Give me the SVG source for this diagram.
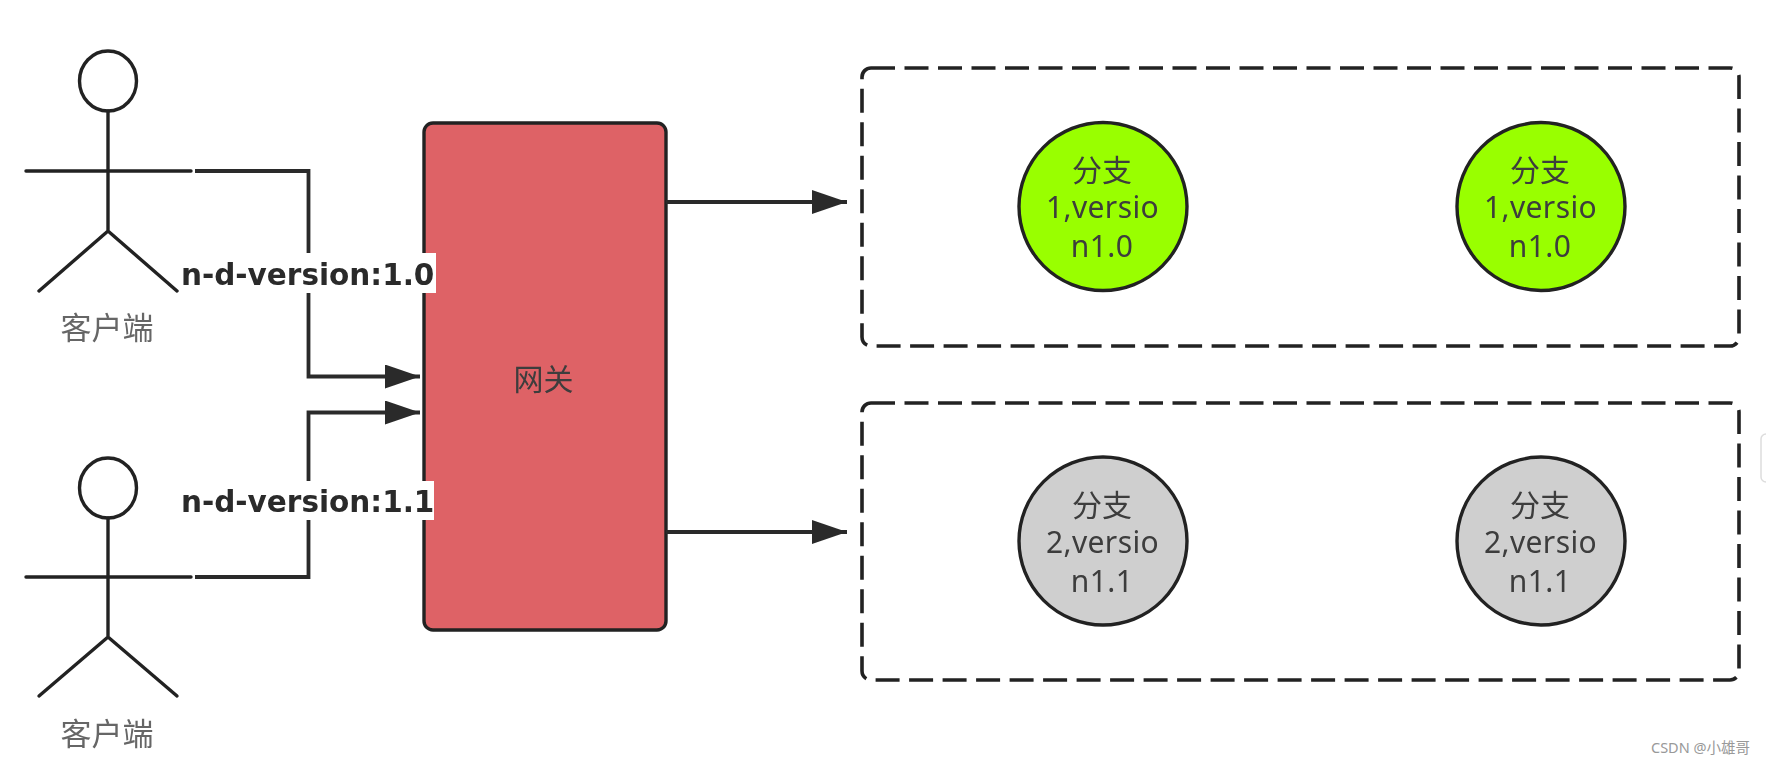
<svg xmlns="http://www.w3.org/2000/svg" width="1766" height="764" viewBox="0 0 1766 764">
<style>
.ln{fill:none;stroke:#222;stroke-width:3.4;stroke-linecap:round;stroke-linejoin:round}
.cn{fill:none;stroke:#2b2b2b;stroke-width:3.8;stroke-linejoin:miter}
.box{fill:#fff;stroke:#222;stroke-width:3.6;stroke-dasharray:24 9.5}
.t{font-family:"Noto Sans","Noto Sans CJK SC",sans-serif;font-size:30px;fill:#3c3c3c;text-anchor:middle}
.l{letter-spacing:.4px}
.a{font-family:"Noto Sans CJK SC","Noto Sans",sans-serif;font-size:31px;fill:#666;text-anchor:middle}
.e{font-family:"DejaVu Sans",sans-serif;font-weight:bold;font-size:29.5px;fill:#2a2a2a}
.g{fill:#99ff00;stroke:#222;stroke-width:3.4}
.h{fill:#cfcfcf;stroke:#222;stroke-width:3.4}
</style>
<defs>
<marker id="arr" markerUnits="userSpaceOnUse" markerWidth="36" markerHeight="26" refX="35" refY="12" orient="auto">
<path d="M0,0L35,12L0,24Z" fill="#2b2b2b"/>
</marker>
<filter id="soft" filterUnits="userSpaceOnUse" x="0" y="0" width="1766" height="764"><feGaussianBlur stdDeviation="0.7"/></filter>
</defs>
<rect width="1766" height="764" fill="#fff"/>
<g filter="url(#soft)">
<g id="actor1">
<ellipse class="ln" cx="108" cy="81" rx="28.5" ry="30" fill="#fff"/>
<path class="ln" d="M108,111V231M26,171H191M39,291L108,231L177,291"/>
<text class="a" x="107" y="339">客户端</text>
</g>
<g id="actor2">
<ellipse class="ln" cx="108" cy="488" rx="28.5" ry="30" fill="#fff"/>
<path class="ln" d="M108,518V637M26,577H191M39,696L108,637L177,696"/>
<text class="a" x="107" y="745">客户端</text>
</g>
<g id="gateway">
<rect x="424" y="123" width="242" height="507" rx="9" fill="#de6266" stroke="#222" stroke-width="3.4"/>
<text class="t" x="543.5" y="390">网关</text>
</g>
<g id="group1"><rect class="box" x="862" y="68" width="877" height="278" rx="9"/></g>
<g id="group2"><rect class="box" x="862" y="403" width="877" height="277" rx="9"/></g>
<g id="branch1a">
<circle class="g" cx="1103" cy="206.5" r="84"/>
<text class="t" x="1102" y="181">分支</text><text class="t l" x="1102.5" y="218">1,versio</text><text class="t l" x="1102" y="257">n1.0</text>
</g>
<g id="branch1b">
<circle class="g" cx="1541" cy="206.5" r="84"/>
<text class="t" x="1540" y="181">分支</text><text class="t l" x="1540.5" y="218">1,versio</text><text class="t l" x="1540" y="257">n1.0</text>
</g>
<g id="branch2a">
<circle class="h" cx="1103" cy="541" r="84"/>
<text class="t" x="1102" y="516">分支</text><text class="t l" x="1102.5" y="553">2,versio</text><text class="t l" x="1102" y="592">n1.1</text>
</g>
<g id="branch2b">
<circle class="h" cx="1541" cy="541" r="84"/>
<text class="t" x="1540" y="516">分支</text><text class="t l" x="1540.5" y="553">2,versio</text><text class="t l" x="1540" y="592">n1.1</text>
</g>
<g id="connectors">
<path class="cn" d="M195,171H308.5V376.5H420" marker-end="url(#arr)"/>
<path class="cn" d="M195,577H308.5V412.5H420" marker-end="url(#arr)"/>
<path class="cn" d="M666,202H847" marker-end="url(#arr)"/>
<path class="cn" d="M666,532H847" marker-end="url(#arr)"/>
<rect x="180" y="253" width="256" height="40" fill="#fff"/>
<text class="e" x="181" y="285">n-d-version:1.0</text>
<rect x="180" y="481" width="254" height="39" fill="#fff"/>
<text class="e" x="181" y="512">n-d-version:1.1</text>
</g>
</g>
<text x="1651" y="753" font-family="'Noto Sans','Noto Sans CJK SC',sans-serif" font-size="14.5" fill="#999">CSDN @小雄哥</text>
<rect x="1761" y="434" width="12" height="48" rx="5" fill="#fff" stroke="#ddd" stroke-width="1.5"/>
</svg>
